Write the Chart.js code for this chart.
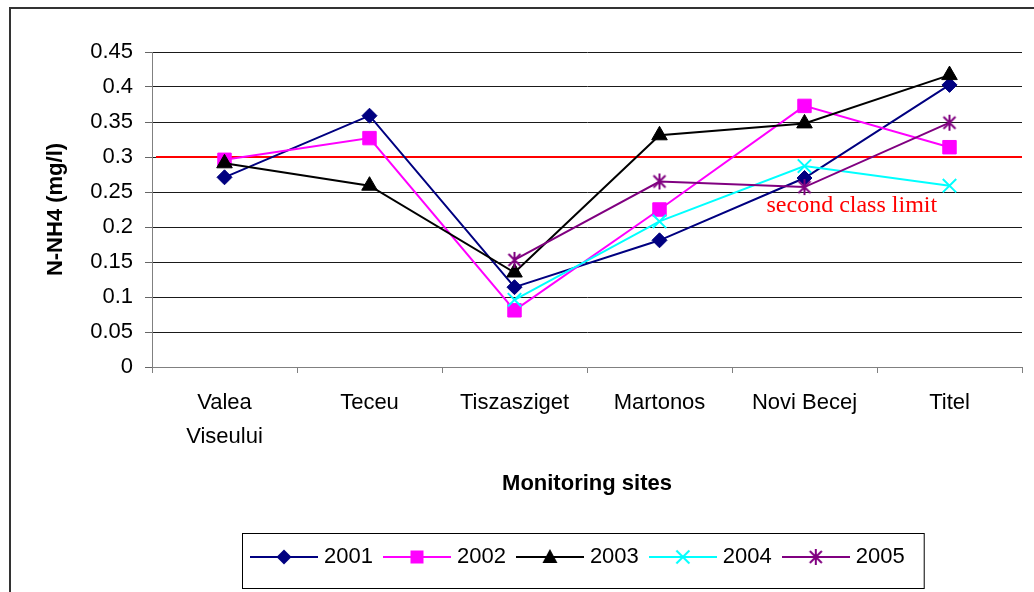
<!DOCTYPE html>
<html>
<head>
<meta charset="utf-8">
<script src="https://cdn.jsdelivr.net/npm/chart.js@4.4.0/dist/chart.umd.min.js"></script>
<style>
  html, body { margin: 0; padding: 0; background: #fff; }
  canvas { display: block; }
</style>
</head>
<body>
<canvas id="nh4Chart" width="1034" height="592"></canvas>
<script>
// monitoring sites along the Tisza and the N-NH4 values (mg/l)
const sites = [['Valea', 'Viseului'], 'Teceu', 'Tiszasziget', 'Martonos', 'Novi Becej', 'Titel'];
const years = ['2001', '2002', '2003', '2004', '2005'];
const nh4_2001 = [0.271, 0.359, 0.114, 0.181, 0.270, 0.403];
const nh4_2002 = [0.296, 0.327, 0.081, 0.225, 0.373, 0.314];
const nh4_2003 = [0.291, 0.259, 0.135, 0.331, 0.348, 0.417];
const nh4_2004 = [null, null, 0.096, 0.208, 0.287, 0.259];
const nh4_2005 = [null, null, 0.153, 0.265, 0.257, 0.349];
const yTicks = [0, 0.05, 0.1, 0.15, 0.2, 0.25, 0.3, 0.35, 0.4, 0.45];
const secondClassLimit = 0.3;
const limitLabel = 'second class limit';

const seriesValues = [nh4_2001, nh4_2002, nh4_2003, nh4_2004, nh4_2005];
const seriesColors = ['#000080', '#ff00ff', '#000000', '#00ffff', '#800080'];
const seriesMarkers = ['diamond', 'square', 'triangle', 'x', 'star'];

// draws one excel-like marker on a small canvas context
function drawMarker(g, kind, cx, cy, color) {
    g.fillStyle = color;
    g.strokeStyle = color;
    g.lineWidth = 2;
    g.beginPath();
    if (kind === 'diamond') {
        g.moveTo(cx, cy - 7.5); g.lineTo(cx + 7.5, cy); g.lineTo(cx, cy + 7.5); g.lineTo(cx - 7.5, cy);
        g.closePath(); g.fill();
    } else if (kind === 'square') {
        g.rect(cx - 6.5, cy - 6.5, 13, 13); g.fill();
    } else if (kind === 'triangle') {
        g.moveTo(cx, cy - 8); g.lineTo(cx + 7.5, cy + 6); g.lineTo(cx - 7.5, cy + 6);
        g.closePath(); g.fill();
    } else if (kind === 'x') {
        g.moveTo(cx - 6.5, cy - 6.5); g.lineTo(cx + 6.5, cy + 6.5);
        g.moveTo(cx + 6.5, cy - 6.5); g.lineTo(cx - 6.5, cy + 6.5);
        g.stroke();
    } else if (kind === 'star') {
        g.moveTo(cx, cy - 8); g.lineTo(cx, cy + 8);
        g.moveTo(cx - 6, cy - 6); g.lineTo(cx + 6, cy + 6);
        g.moveTo(cx + 6, cy - 6); g.lineTo(cx - 6, cy + 6);
        g.stroke();
    }
}

function makeIcon(kind, color, w, h, withLine) {
    const c = document.createElement('canvas');
    c.width = w;
    c.height = h;
    const g = c.getContext('2d');
    if (withLine) {
        g.strokeStyle = color;
        g.lineWidth = 2;
        g.beginPath();
        g.moveTo(0, h / 2);
        g.lineTo(w, h / 2);
        g.stroke();
    }
    drawMarker(g, kind, w / 2, h / 2, color);
    return c;
}

const legendIcons = seriesMarkers.map((m, i) => makeIcon(m, seriesColors[i], 68, 20, true));
const starPoint = makeIcon('star', seriesColors[4], 18, 18, false);

const pointStyles = ['rectRot', 'rect', 'triangle', 'crossRot', starPoint];
const pointRadii = [7.5, 9.5, 9, 9.5, 9];

const datasets = years.map((yr, i) => ({
    label: yr,
    data: seriesValues[i],
    borderColor: seriesColors[i],
    backgroundColor: seriesColors[i],
    borderWidth: 2,
    tension: 0,
    spanGaps: false,
    pointStyle: pointStyles[i],
    pointRadius: pointRadii[i],
    pointBorderWidth: i === 3 ? 2 : 1,
    pointBackgroundColor: seriesColors[i],
    pointBorderColor: seriesColors[i],
    order: years.length - i
}));

// red horizontal limit and its label
const limitLine = {
    id: 'limitLine',
    beforeDatasetsDraw(chart) {
        const {ctx, chartArea, scales: {x, y}} = chart;
        const py = y.getPixelForValue(secondClassLimit);
        ctx.save();
        ctx.strokeStyle = '#ff0000';
        ctx.lineWidth = 2;
        ctx.beginPath();
        ctx.moveTo(chartArea.left + 4, py);
        ctx.lineTo(chartArea.right, py);
        ctx.stroke();
        ctx.fillStyle = '#ff0000';
        ctx.font = '24px "Liberation Serif", "Times New Roman", serif';
        ctx.textBaseline = 'alphabetic';
        ctx.fillText(limitLabel, x.getPixelForValue(4) - 38, y.getPixelForValue(0.221));
        ctx.restore();
    }
};

// white page, outer frame, legend moved under the plot and boxed
const frame = {
    id: 'frame',
    beforeDraw(chart) {
        const {ctx, width, height} = chart;
        ctx.save();
        ctx.fillStyle = '#fff';
        ctx.fillRect(0, 0, width, height);
        ctx.restore();
    },
    afterLayout(chart) {
        chart.legend.left = 240;
    },
    afterDraw(chart) {
        const {ctx, legend} = chart;
        ctx.save();
        ctx.strokeStyle = '#333';
        ctx.lineWidth = 2;
        ctx.strokeRect(10, 8, 1040, 620);
        const boxes = legend.legendHitBoxes;
        const first = boxes[0];
        const last = boxes[boxes.length - 1];
        ctx.strokeStyle = '#000';
        ctx.lineWidth = 1;
        ctx.strokeRect(first.left - 12.5, legend.top + 2.5, last.left + last.width + 20 - first.left + 12, 55);
        ctx.restore();
    }
};

Chart.defaults.font.family = '"Liberation Sans", Arial, sans-serif';
Chart.defaults.font.size = 22;
Chart.defaults.color = '#000';

new Chart(document.getElementById('nh4Chart'), {
    type: 'line',
    data: {labels: sites, datasets: datasets},
    options: {
        responsive: false,
        animation: false,
        devicePixelRatio: 1,
        events: [],
        layout: {padding: {top: 52, right: 12, bottom: 14, left: 0}},
        plugins: {
            tooltip: {enabled: false},
            legend: {
                position: 'bottom',
                align: 'start',
                labels: {
                    usePointStyle: true,
                    pointStyleWidth: 58,
                    padding: 15,
                    font: {size: 22},
                    color: '#000',
                    generateLabels: chart => chart.data.datasets.map((ds, i) => ({
                        text: ds.label,
                        pointStyle: legendIcons[i],
                        fillStyle: 'transparent',
                        strokeStyle: 'transparent',
                        lineWidth: 0,
                        hidden: false,
                        datasetIndex: i,
                        fontColor: '#000'
                    }))
                }
            }
        },
        scales: {
            x: {
                offset: true,
                grid: {
                    offset: true,
                    drawOnChartArea: false,
                    drawTicks: true,
                    tickLength: 6,
                    color: '#808080'
                },
                border: {color: '#808080', width: 1},
                ticks: {
                    autoSkip: false,
                    maxRotation: 0,
                    padding: 13,
                    font: {size: 22, lineHeight: 34 / 22},
                    color: '#000'
                },
                title: {
                    display: true,
                    text: 'Monitoring sites',
                    font: {size: 22, weight: 'bold'},
                    padding: {top: 0, bottom: 34}
                },
                afterFit: axis => { axis.height = 164; }
            },
            y: {
                min: 0,
                max: 0.45,
                afterBuildTicks: axis => { axis.ticks = yTicks.map(v => ({value: v})); },
                grid: {
                    color: c => (c.tick && c.tick.value === 0) ? 'rgba(0,0,0,0)' : '#1a1a1a',
                    tickColor: '#666',
                    tickLength: 7,
                    lineWidth: 1
                },
                border: {color: '#808080', width: 1},
                ticks: {
                    padding: 12,
                    font: {size: 22},
                    color: '#000',
                    callback: v => String(v)
                },
                title: {
                    display: true,
                    text: 'N-NH4 (mg/l)',
                    font: {size: 22, weight: 'bold'},
                    padding: {top: 43, bottom: 0}
                },
                afterFit: axis => { axis.width = 152; }
            }
        }
    },
    plugins: [limitLine, frame]
});
</script>
</body>
</html>
